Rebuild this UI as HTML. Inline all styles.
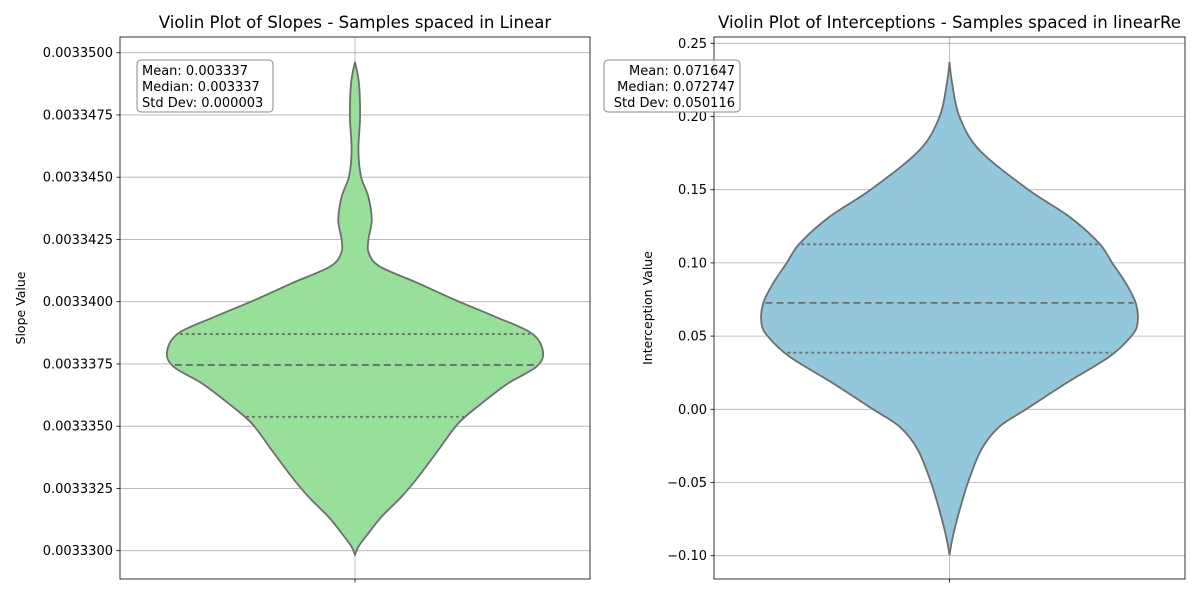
<!DOCTYPE html>
<html><head><meta charset="utf-8"><style>
body{margin:0;background:#fff;}
svg text{font-family:"DejaVu Sans","Liberation Sans",sans-serif;fill:#000;}
</style></head><body>
<svg id="c" width="1200" height="600" xmlns="http://www.w3.org/2000/svg"></svg>
<script>
// ---- Left chart data (slopes) ----
const slopeValues = [0.00334963,0.00334877,0.00334743,0.00334609,0.00334502,0.00334422,0.00334328,0.00334248,0.00334194,0.00334141,0.00334074,0.00334007,0.00333940,0.00333873,0.00333799,0.00333739,0.00333672,0.00333592,0.00333512,0.00333404,0.00333297,0.00333217,0.00333137,0.00333070,0.00333016,0.00332983];
const slopeDensity = [0,0.021,0.027,0.018,0.032,0.071,0.089,0.071,0.074,0.133,0.337,0.532,0.745,0.94,1.0,0.965,0.814,0.674,0.55,0.443,0.337,0.248,0.142,0.071,0.018,0];
const slopeQuartiles = [0.00333538,0.00333746,0.00333870];
const slopeTicks = [0.00333,0.0033325,0.003335,0.0033375,0.00334,0.0033425,0.003345,0.0033475,0.00335];
const slopeTickLabels = ["0.0033300","0.0033325","0.0033350","0.0033375","0.0033400","0.0033425","0.0033450","0.0033475","0.0033500"];
const slopeStats = ["Mean: 0.003337","Median: 0.003337","Std Dev: 0.000003"];
// ---- Right chart data (interceptions) ----
const interValues = [0.2372,0.2227,0.1999,0.1771,0.1503,0.1316,0.1134,0.0997,0.0861,0.0724,0.0587,0.0496,0.0359,0.0178,0,-0.0119,-0.0278,-0.0505,-0.0734,-0.0893,-0.0995];
const interDensity = [0,0.014,0.053,0.159,0.416,0.637,0.796,0.867,0.938,0.991,1.0,0.965,0.85,0.62,0.407,0.265,0.168,0.097,0.044,0.014,0];
const interQuartiles = [0.0387,0.0727,0.1127];
const interTicks = [-0.10,-0.05,0,0.05,0.10,0.15,0.20,0.25];
const interTickLabels = ["−0.10","−0.05","0.00","0.05","0.10","0.15","0.20","0.25"];
const interStats = ["Mean: 0.071647","Median: 0.072747","Std Dev: 0.050116"];

const NS="http://www.w3.org/2000/svg";
const svg=document.getElementById('c');
function mk(tag,attrs,parent){const e=document.createElementNS(NS,tag);for(const k in attrs)e.setAttribute(k,attrs[k]);(parent||svg).appendChild(e);return e;}

function catmull(pts){
  let d="M"+pts[0][0]+","+pts[0][1];
  for(let i=0;i<pts.length-1;i++){
    const p0=pts[i-1]||pts[i],p1=pts[i],p2=pts[i+1],p3=pts[i+2]||p2;
    const c1=[p1[0]+(p2[0]-p0[0])/6,p1[1]+(p2[1]-p0[1])/6];
    const c2=[p2[0]-(p3[0]-p1[0])/6,p2[1]-(p3[1]-p1[1])/6];
    d+=" C"+c1[0]+","+c1[1]+" "+c2[0]+","+c2[1]+" "+p2[0]+","+p2[1];
  }
  return d;
}
function interp(vals,dens,v){
  for(let i=0;i<vals.length-1;i++){
    const a=vals[i],b=vals[i+1];
    if((v<=a&&v>=b)){const t=(v-a)/(b-a);return dens[i]+t*(dens[i+1]-dens[i]);}
  }
  return 0;
}

function chart(o){
  const {x0,x1,y0,y1,vmin,vmax,vals,dens,quart,ticks,labels,stats,fill,title,ylabel,name,statAlignRight,statX}=o;
  const g=mk('g',{});
  
  
  const yS=v=>y1-(v-vmin)/(vmax-vmin)*(y1-y0);
  const cx=(x0+x1)/2, maxHW=188;
  ticks.forEach((t,i)=>{
    const y=yS(t);
    const gl=mk('line',{x1:x0,x2:x1,y1:y,y2:y,stroke:'#b0b0b0','stroke-width':0.8},g);
    
    
    mk('line',{x1:x0-3.5,x2:x0,y1:y,y2:y,stroke:'#000','stroke-width':0.8},g);
    const tl=mk('text',{x:x0-7,y:y+4.5,'text-anchor':'end','font-size':13},g);
    tl.textContent=labels[i];
    
    
  });
  mk('line',{x1:cx,x2:cx,y1:y0,y2:y1,stroke:'#b0b0b0','stroke-width':0.8},g);
  mk('line',{x1:cx,x2:cx,y1:y1,y2:y1+3.5,stroke:'#000','stroke-width':0.8},g);
  const right=vals.map((v,i)=>[cx+dens[i]*maxHW,yS(v)]);
  const left=vals.map((v,i)=>[cx-dens[i]*maxHW,yS(v)]).reverse();
  const d=catmull(right)+" L"+catmull(left).slice(1)+" Z";
  const vp=mk('path',{d:d,fill:fill,stroke:'#6e6e6e','stroke-width':1.8},g);
  
  
  quart.forEach((q,i)=>{
    const hw=interp(vals,dens,q)*maxHW-2;const y=yS(q);
    const ql=mk('line',{x1:cx-hw,x2:cx+hw,y1:y,y2:y,stroke:'#6e6e6e','stroke-width':1.8,'stroke-dasharray':i==1?'7,4':'3,3'},g);
    
    
  });
  mk('rect',{x:x0,y:y0,width:x1-x0,height:y1-y0,fill:'none',stroke:'#000','stroke-width':0.8},g);
  const tt=mk('text',{x:cx,y:28,'text-anchor':'middle','font-size':16.6},g);
  tt.textContent=title;
  
  
  const yl=mk('text',{x:0,y:0,'text-anchor':'middle','font-size':12.5,transform:`translate(${o.ylx},${(y0+y1)/2}) rotate(-90)`},g);
  yl.textContent=ylabel;
  
  
  const bx=statX, bw=136;
  const sb=mk('rect',{x:bx,y:60,width:bw,height:52,rx:4,fill:'#fff','fill-opacity':0.8,stroke:'#888','stroke-width':1},g);
  
  
  stats.forEach((s,i)=>{
    const st=mk('text',{x:statAlignRight?bx+bw-5:bx+5,y:75+i*16,'text-anchor':statAlignRight?'end':'start','font-size':13},g);
    st.textContent=s;
    
    
  });
}
chart({x0:120,x1:590,y0:37,y1:579,vmin:0.00333-0.0000025*28.3/62.25,vmax:0.00333+0.0000025*(550.7-37)/62.25,
  vals:slopeValues,dens:slopeDensity,quart:slopeQuartiles,ticks:slopeTicks,labels:slopeTickLabels,stats:slopeStats,
  fill:'#98e09a',title:'Violin Plot of Slopes - Samples spaced in Linear',ylabel:'Slope Value',ylx:25,name:'slopes-chart',statAlignRight:false,statX:137});
chart({x0:714,x1:1185,y0:37,y1:579,vmin:-0.05*(579-409.3)/73.2,vmax:0.05*(409.3-37)/73.2,
  vals:interValues,dens:interDensity,quart:interQuartiles,ticks:interTicks,labels:interTickLabels,stats:interStats,
  fill:'#92c7dc',title:'Violin Plot of Interceptions - Samples spaced in linearRe',ylabel:'Interception Value',ylx:652,name:'interceptions-chart',statAlignRight:true,statX:604});
</script>
</body></html>
